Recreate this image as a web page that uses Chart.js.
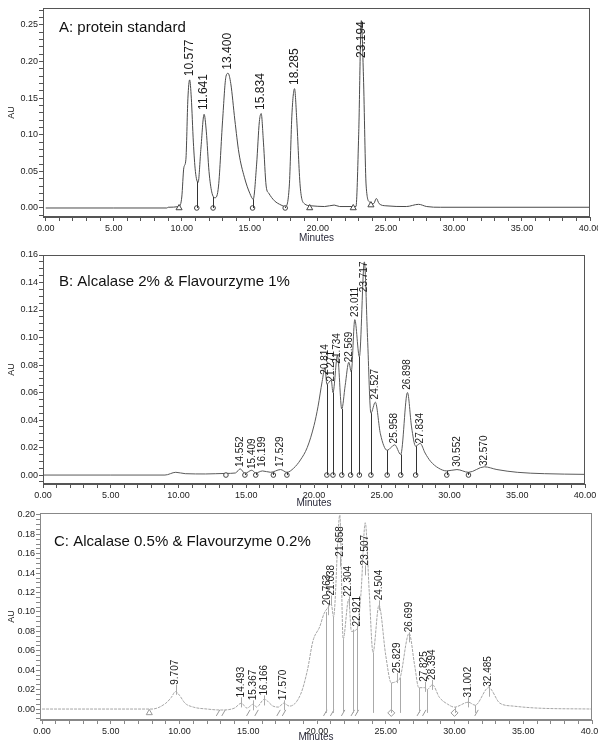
<!DOCTYPE html>
<html>
<head>
<meta charset="utf-8">
<script src="https://cdn.jsdelivr.net/npm/chart.js@4.4.1/dist/chart.umd.min.js"></script>
<style>
  body { margin: 0; background: #fff; }
  .panel { position: absolute; left: 0; width: 598px; }
  #boxA { top: 0; height: 245px; }
  #boxB { top: 245px; height: 265px; }
  #boxC { top: 505px; height: 238px; }
</style>
</head>
<body>
<div class="panel" id="boxA"><canvas id="chartA"></canvas></div>
<div class="panel" id="boxB"><canvas id="chartB"></canvas></div>
<div class="panel" id="boxC"><canvas id="chartC"></canvas></div>
<script>
// ---- A: protein standard ----
const timeA = [0, 5, 8.9, 9.0, 9.8, 10.0, 10.15, 10.3, 10.45, 10.577, 10.7, 10.85, 11.0, 11.2, 11.4, 11.641, 11.8, 12.0, 12.2, 12.45, 12.7, 13.0, 13.25, 13.4, 13.6, 13.9, 14.2, 14.6, 15.0, 15.25, 15.5, 15.7, 15.834, 16.0, 16.2, 16.4, 16.8, 17.3, 17.6, 17.9, 18.1, 18.285, 18.45, 18.7, 19.0, 19.5, 20.5, 21.2, 21.6, 22.8, 23.0, 23.194, 23.35, 23.55, 23.8, 24.1, 24.3, 24.5, 25.0, 26.5, 27.4, 28.0, 29.0, 40];
const auA = [0, 0, 0, 0.001, 0.002, 0.015, 0.055, 0.066, 0.150, 0.175, 0.150, 0.090, 0.050, 0.035, 0.080, 0.128, 0.105, 0.050, 0.022, 0.014, 0.030, 0.120, 0.180, 0.184, 0.170, 0.120, 0.075, 0.042, 0.020, 0.012, 0.060, 0.118, 0.129, 0.090, 0.030, 0.020, 0.010, 0.004, 0.002, 0.030, 0.130, 0.163, 0.120, 0.030, 0.006, 0.003, 0.002, 0.004, 0.002, 0.002, 0.100, 0.256, 0.180, 0.030, 0.008, 0.006, 0.013, 0.006, 0.003, 0.002, 0.005, 0.002, 0.001, 0.001];
const peakTimesA = [10.577, 11.641, 13.400, 15.834, 18.285, 23.194];
const peakLabelAuA = [0.180, 0.134, 0.189, 0.134, 0.168, 0.205];
const dropTimesA = [11.1, 12.3, 15.2, 17.6];
const dropTopsA = [0.036, 0.015, 0.012, 0.002];
const markTimesA = [9.8, 11.1, 12.3, 15.2, 17.6, 19.4, 22.6, 23.9];
const markAuA = [0, 0, 0, 0, 0, 0, 0, 0.004];
const markStylesA = ['triangle', 'circle', 'circle', 'circle', 'circle', 'triangle', 'triangle', 'triangle'];

// ---- B: Alcalase 2% & Flavourzyme 1% ----
const timeB = [0, 5, 9.0, 9.8, 10.5, 12, 13.5, 14.2, 14.552, 14.9, 15.409, 15.7, 16.199, 16.8, 17.529, 18.0, 18.5, 19.0, 19.5, 20.0, 20.3, 20.6, 20.814, 20.95, 21.271, 21.4, 21.734, 22.05, 22.3, 22.569, 22.75, 23.011, 23.35, 23.717, 23.95, 24.2, 24.527, 24.9, 25.4, 25.958, 26.4, 26.898, 27.2, 27.5, 27.834, 28.2, 28.6, 29.2, 29.8, 30.552, 31.4, 32.570, 33.5, 35, 37, 40];
const auB = [0, 0, 0, 0.002, 0.001, 0.0008, 0.0012, 0.0015, 0.0045, 0.0012, 0.0035, 0.0015, 0.003, 0.002, 0.004, 0.002, 0.005, 0.011, 0.020, 0.036, 0.050, 0.068, 0.078, 0.066, 0.069, 0.060, 0.087, 0.048, 0.065, 0.082, 0.075, 0.113, 0.086, 0.155, 0.100, 0.045, 0.053, 0.030, 0.018, 0.022, 0.015, 0.060, 0.035, 0.021, 0.023, 0.016, 0.010, 0.005, 0.003, 0.004, 0.002, 0.006, 0.004, 0.002, 0.001, 0.0005];
const peakTimesB = [14.552, 15.409, 16.199, 17.529, 20.814, 21.271, 21.734, 22.569, 23.011, 23.717, 24.527, 25.958, 26.898, 27.834, 30.552, 32.570];
const peakLabelAuB = [0.0058, 0.0044, 0.0058, 0.0058, 0.073, 0.068, 0.081, 0.082, 0.115, 0.133, 0.055, 0.023, 0.062, 0.023, 0.006, 0.0065];
const dropTimesB = [14.9, 15.7, 17.0, 18.0, 20.95, 21.4, 22.05, 22.7, 23.35, 24.2, 25.4, 26.4, 27.5, 29.8, 31.4];
const dropTopsB = [0.0012, 0.0015, 0.002, 0.002, 0.066, 0.060, 0.048, 0.076, 0.086, 0.045, 0.018, 0.015, 0.021, 0.003, 0.002];
const markTimesB = [13.5, 14.9, 15.7, 17.0, 18.0, 20.95, 21.4, 22.05, 22.7, 23.35, 24.2, 25.4, 26.4, 27.5, 29.8, 31.4];
const markAuB = [0, 0, 0, 0, 0, 0, 0, 0, 0, 0, 0, 0, 0, 0, 0, 0];
const markStylesB = ['circle', 'circle', 'circle', 'circle', 'circle', 'circle', 'circle', 'circle', 'circle', 'circle', 'circle', 'circle', 'circle', 'circle', 'circle', 'circle'];

// ---- C: Alcalase 0.5% & Flavourzyme 0.2% ----
const timeC = [0, 5, 8.0, 9.0, 9.4, 9.707, 10.0, 10.4, 11.0, 12.0, 13.0, 14.0, 14.493, 14.9, 15.367, 15.6, 16.166, 16.8, 17.2, 17.570, 18.0, 18.8, 19.3, 19.7, 20.2, 20.5, 20.763, 21.038, 21.2, 21.658, 21.9, 22.304, 22.5, 22.921, 23.2, 23.507, 23.8, 24.07, 24.504, 25.0, 25.4, 25.829, 26.04, 26.699, 27.1, 27.4, 27.825, 28.0, 28.394, 28.9, 29.5, 30.0, 31.002, 31.5, 32.485, 33.3, 34.3, 36, 40];
const auC = [0, 0, 0, 0.006, 0.012, 0.018, 0.014, 0.006, 0.002, 0, -0.001, 0.001, 0.006, 0.001, 0.005, 0.002, 0.010, 0.003, 0.002, 0.006, 0.003, 0.015, 0.040, 0.070, 0.085, 0.098, 0.104, 0.108, 0.095, 0.200, 0.072, 0.113, 0.080, 0.083, 0.120, 0.192, 0.120, 0.058, 0.107, 0.055, 0.027, 0.029, 0.032, 0.078, 0.045, 0.022, 0.022, 0.020, 0.025, 0.012, 0.005, 0.002, 0.007, 0.004, 0.022, 0.006, 0.003, 0.001, 0];
const peakTimesC = [9.707, 14.493, 15.367, 16.166, 17.570, 20.763, 21.038, 21.658, 22.304, 22.921, 23.507, 24.504, 25.829, 26.699, 27.825, 28.394, 31.002, 32.485];
const peakLabelAuC = [0.025, 0.012, 0.009, 0.014, 0.009, 0.107, 0.117, 0.157, 0.116, 0.085, 0.148, 0.112, 0.037, 0.079, 0.028, 0.030, 0.012, 0.023];
const dropTimesC = [20.65, 21.16, 21.9, 22.6, 22.9, 24.07, 25.4, 26.04, 27.4, 28.0, 30.0, 31.5];
const dropTopsC = [0.100, 0.095, 0.072, 0.082, 0.085, 0.058, 0.027, 0.032, 0.022, 0.020, 0.002, 0.004];
const markTimesC = [7.8, 12.8, 13.2, 15.0, 15.6, 17.2, 17.6, 20.6, 21.1, 21.9, 22.6, 22.9, 25.4, 27.4, 27.8, 30.0, 31.6];
const markAuC = [-0.004, -0.004, -0.004, -0.004, -0.004, -0.004, -0.004, -0.004, -0.004, -0.004, -0.004, -0.004, -0.004, -0.004, -0.004, -0.004, -0.004];
const markStylesC = ['triangle', 'line', 'line', 'line', 'line', 'line', 'line', 'line', 'line', 'line', 'line', 'line', 'rectRot', 'line', 'line', 'rectRot', 'line'];

const FONT = "'Liberation Sans', Arial, sans-serif";

const zipPts = (xs, ys) => xs.map((t, i) => ({ x: t, y: ys[i] }));

// box, drop lines, rotated peak labels and panel title
const chromDecor = {
  id: 'chromDecor',
  afterDatasetsDraw(chart, args, o) {
    const { ctx, chartArea: a, scales: { x, y } } = chart;
    ctx.save();
    ctx.lineWidth = 1;
    ctx.strokeStyle = o.boxColor;
    ctx.strokeRect(a.left + 0.5, a.top + 0.5, a.width - 1, a.height - 1);

    ctx.strokeStyle = o.dropColor;
    ctx.beginPath();
    o.dropTimes.forEach((t, i) => {
      const px = Math.round(x.getPixelForValue(t)) + 0.5;
      ctx.moveTo(px, y.getPixelForValue(o.dropBase));
      ctx.lineTo(px, y.getPixelForValue(o.dropTops[i]));
    });
    ctx.stroke();

    ctx.fillStyle = o.labelColor;
    ctx.font = o.labelFont;
    ctx.textAlign = 'left';
    ctx.textBaseline = 'middle';
    o.peakTimes.forEach((t, i) => {
      const px = x.getPixelForValue(t);
      const py = y.getPixelForValue(o.peakAu[i]);
      if (o.peakTick) {
        ctx.beginPath();
        ctx.moveTo(Math.round(px) + 0.5, py);
        ctx.lineTo(Math.round(px) + 0.5, py + 10);
        ctx.stroke();
      }
      ctx.save();
      ctx.translate(px, py);
      ctx.rotate(-Math.PI / 2);
      ctx.fillText(t.toFixed(3), 0, 0);
      ctx.restore();
    });

    ctx.font = '15px ' + FONT;
    ctx.fillStyle = '#111';
    ctx.fillText(o.title, a.left + o.titleDx, a.top + o.titleDy);
    ctx.restore();
  }
};

function isMultiple(v, step) {
  const r = v / step;
  return Math.abs(r - Math.round(r)) < 1e-6;
}

function buildChart(id, p) {
  return new Chart(document.getElementById(id), {
    type: 'line',
    data: {
      datasets: [
        {
          data: zipPts(p.time, p.au),
          borderColor: p.lineColor,
          borderWidth: 1,
          borderDash: p.dash,
          pointRadius: 0,
          cubicInterpolationMode: 'monotone',
          order: 2
        },
        {
          data: zipPts(p.markTimes, p.markAu),
          showLine: false,
          pointStyle: p.markStyles,
          pointRotation: p.markStyles.map(s => s === 'line' ? -60 : 0),
          pointRadius: p.markStyles.map(s => s === 'circle' ? 2.3 : 3.5),
          borderColor: p.markColor,
          backgroundColor: '#fff',
          borderWidth: 1,
          order: 1
        }
      ]
    },
    options: {
      responsive: true,
      maintainAspectRatio: false,
      animation: false,
      events: [],
      layout: { padding: { top: p.top, right: 598 - p.right, left: 0, bottom: p.padBottom } },
      plugins: {
        legend: { display: false },
        tooltip: { enabled: false },
        chromDecor: {
          title: p.title, titleDx: p.titleDx, titleDy: p.titleDy,
          boxColor: p.axisColor, dropColor: p.dropColor, dropBase: p.dropBase,
          dropTimes: p.dropTimes, dropTops: p.dropTops,
          peakTimes: p.peakTimes, peakAu: p.peakAu, peakTick: p.peakTick,
          labelFont: p.labelFont, labelColor: '#1a1a1a'
        }
      },
      scales: {
        x: {
          type: 'linear',
          min: p.xMin,
          max: 40,
          afterFit: s => { s.height = p.xHeight; s.paddingLeft = 0; s.paddingRight = 0; },
          border: { color: p.axisColor },
          grid: { display: true, drawOnChartArea: false, tickLength: 4, color: p.axisColor },
          ticks: {
            stepSize: 1, autoSkip: false, maxRotation: 0, minRotation: 0, includeBounds: false, padding: 2,
            color: '#222', font: { family: FONT, size: 9 },
            callback: v => v % 5 === 0 ? v.toFixed(2) : ''
          },
          title: { display: true, text: 'Minutes', color: '#2a2a3a', font: { family: FONT, size: 10 }, padding: { top: 0, bottom: p.minutesPad } }
        },
        y: {
          min: p.yMin,
          max: p.yMax,
          afterFit: s => { s.width = p.left; s.paddingTop = 0; s.paddingBottom = 0; },
          border: { color: p.axisColor },
          grid: { display: true, drawOnChartArea: false, tickLength: 4, color: p.axisColor },
          ticks: {
            stepSize: p.yMinor, autoSkip: false, includeBounds: false, padding: 1,
            color: '#222', font: { family: FONT, size: 9 },
            callback: v => isMultiple(v, p.yMajor) ? v.toFixed(2) : ''
          },
          title: { display: true, text: 'AU', color: '#222', font: { family: FONT, size: 9 }, padding: { top: 6, bottom: 0 } }
        }
      }
    },
    plugins: [chromDecor]
  });
}

buildChart('chartA', {
  time: timeA, au: auA, lineColor: '#4a4a4a', dash: [],
  markTimes: markTimesA, markAu: markAuA, markStyles: markStylesA, markColor: '#444',
  peakTimes: peakTimesA, peakAu: peakLabelAuA, peakTick: false, labelFont: '12px ' + FONT,
  dropTimes: dropTimesA, dropTops: dropTopsA, dropBase: 0, dropColor: '#333',
  title: 'A: protein standard', titleDx: 16, titleDy: 20,
  left: 43, right: 590, top: 8, padBottom: 0, xHeight: 28, minutesPad: 1,
  xMin: -0.2, yMin: -0.0123, yMax: 0.2732, yMinor: 0.01, yMajor: 0.05, axisColor: '#555'
});

buildChart('chartB', {
  time: timeB, au: auB, lineColor: '#5a5a5a', dash: [],
  markTimes: markTimesB, markAu: markAuB, markStyles: markStylesB, markColor: '#444',
  peakTimes: peakTimesB, peakAu: peakLabelAuB, peakTick: false, labelFont: '10px ' + FONT,
  dropTimes: dropTimesB, dropTops: dropTopsB, dropBase: 0, dropColor: '#333',
  title: 'B: Alcalase 2% & Flavourzyme 1%', titleDx: 16, titleDy: 27,
  left: 43, right: 585, top: 10, padBottom: 0, xHeight: 26, minutesPad: 1,
  xMin: 0, yMin: -0.0065, yMax: 0.16, yMinor: 0.005, yMajor: 0.02, axisColor: '#555'
});

buildChart('chartC', {
  time: timeC, au: auC, lineColor: '#a6a6a6', dash: [3, 1],
  markTimes: markTimesC, markAu: markAuC, markStyles: markStylesC, markColor: '#999',
  peakTimes: peakTimesC, peakAu: peakLabelAuC, peakTick: true, labelFont: '10px ' + FONT,
  dropTimes: dropTimesC, dropTops: dropTopsC, dropBase: -0.004, dropColor: '#aaa',
  title: 'C: Alcalase 0.5% & Flavourzyme 0.2%', titleDx: 14, titleDy: 29,
  left: 40, right: 592, top: 8, padBottom: 0, xHeight: 23, minutesPad: 0,
  xMin: -0.15, yMin: -0.0113, yMax: 0.202, yMinor: 0.005, yMajor: 0.02, axisColor: '#888'
});
</script>
</body>
</html>
